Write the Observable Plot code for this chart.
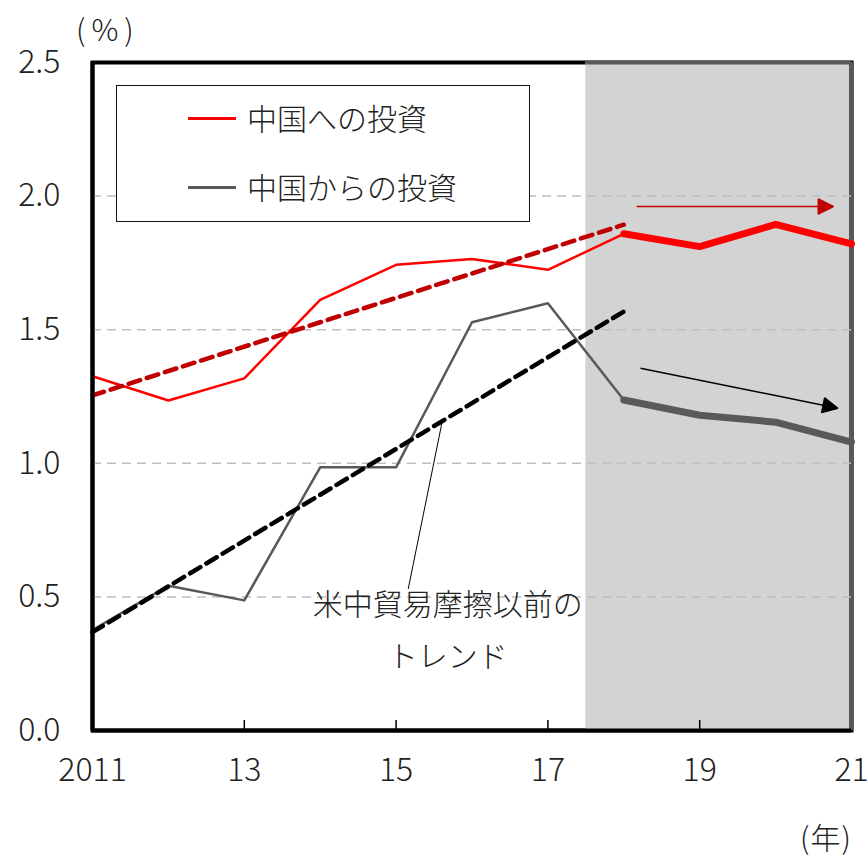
<!DOCTYPE html>
<html>
<head>
<meta charset="utf-8">
<script src="https://cdn.jsdelivr.net/npm/d3@7"></script>
<script src="https://cdn.jsdelivr.net/npm/@observablehq/plot@0.6"></script>
<style>
  body { margin: 0; background: #fff; overflow: hidden; }
  #wrap { position: relative; width: 868px; height: 861px; overflow: hidden; font-family: "Noto Sans CJK JP", "Noto Sans", sans-serif; font-weight: 300; color: #222; }
  #wrap svg { position: absolute; left: 0; top: 0; }
  .legend { position: absolute; left: 116px; top: 85px; width: 412px; height: 135px; border: 1.5px solid #111; background: #fff; }
  .legend .sw { position: absolute; left: 71px; width: 48px; height: 2.5px; }
  .legend .lb { position: absolute; left: 130px; font-size: 30px; line-height: 1; white-space: nowrap; }
  .unit { position: absolute; font-size: 30px; line-height: 1; white-space: nowrap; }
</style>
</head>
<body>
<div id="wrap"></div>
<script>
// ---- data ----
const years = [2011, 2012, 2013, 2014, 2015, 2016, 2017, 2018, 2019, 2020, 2021];
const toChina = [1.326, 1.235, 1.318, 1.612, 1.743, 1.765, 1.724, 1.859, 1.811, 1.894, 1.821];
const fromChina = [0.376, 0.542, 0.487, 0.985, 0.985, 1.528, 1.599, 1.237, 1.180, 1.154, 1.079];
const breakYear = 2018;
const trendYears = [2011, 2018];
const trendToChina = [1.254, 1.893];
const trendFromChina = [0.368, 1.568];
const shadeRange = [2017.5, 2021];
const yTicks = [0, 0.5, 1.0, 1.5, 2.0, 2.5];
const gridTicks = [0.5, 1.0, 1.5, 2.0];
const xTickYears = [2011, 2013, 2015, 2017, 2019, 2021];
const xTickLabels = ["2011", "13", "15", "17", "19", "21"];
const innerTickYears = [2013, 2015, 2017, 2019];
const seriesNames = ["中国への投資", "中国からの投資"];
const seriesColors = ["#ff0000", "#595959"];
const trendColors = ["#c00000", "#000000"];
const arrowRed = [{x1: 2018.17, y1: 1.961, x2: 2020.76, y2: 1.961}];
const arrowBlack = [{x1: 2018.22, y1: 1.356, x2: 2020.82, y2: 1.206}];
const noteLines = ["米中貿易摩擦以前の", "トレンド"];
const noteX = [2015.68, 2015.68];
const noteY = [0.468, 0.272];
const leader = [{x1: 2015.16, y1: 0.53, x2: 2015.61, y2: 1.16}];
const unitY = "(%)";
const unitX = "(年)";

// ---- build tables ----
const rowsTo = years.map((y, i) => ({year: y, v: toChina[i]}));
const rowsFrom = years.map((y, i) => ({year: y, v: fromChina[i]}));
const trendTo = trendYears.map((y, i) => ({year: y, v: trendToChina[i]}));
const trendFrom = trendYears.map((y, i) => ({year: y, v: trendFromChina[i]}));
const notes = noteLines.map((t, i) => ({t, x: noteX[i], y: noteY[i]}));
const labelMap = new Map(xTickYears.map((y, i) => [y, xTickLabels[i]]));
const shade = [{x1: shadeRange[0], x2: shadeRange[1], y1: yTicks[0], y2: yTicks[yTicks.length - 1]}];

function arrowMark(data, color) {
  return Plot.link(data, {
    x1: "x1", y1: "y1", x2: "x2", y2: "y2", stroke: color, strokeWidth: 1.5,
    render(index, scales, values, dims, context, next) {
      const g = next(index, scales, values, dims, context);
      for (const i of index) {
        const X1 = values.x1[i], Y1 = values.y1[i], X2 = values.x2[i], Y2 = values.y2[i];
        const a = Math.atan2(Y2 - Y1, X2 - X1);
        const L = 15, W = 7.5;
        const bx = X2 - L * Math.cos(a), by = Y2 - L * Math.sin(a);
        const p = [[X2, Y2], [bx - W * Math.sin(a), by + W * Math.cos(a)], [bx + W * Math.sin(a), by - W * Math.cos(a)]];
        d3.select(g).append("path").attr("d", "M" + p.map(q => q.join(",")).join("L") + "Z").attr("fill", color);
      }
      return g;
    }
  });
}

const font = '"Noto Sans CJK JP", "Noto Sans", sans-serif';
const chart = Plot.plot({
  width: 868,
  height: 861,
  marginLeft: 92,
  marginRight: 17,
  marginTop: 62,
  marginBottom: 131,
  style: {fontFamily: font, fontSize: "32px", fontWeight: 300, color: "#222", background: "transparent"},
  x: {domain: [2011, 2021]},
  y: {domain: [0, 2.5]},
  marks: [
    Plot.frame({stroke: "#000", strokeWidth: 4}),
    Plot.rect(shade, {x1: "x1", x2: "x2", y1: "y1", y2: "y2", fill: "#d3d3d3"}),
    Plot.ruleY([shade[0].y2], {x1: shade[0].x1, x2: shade[0].x2, stroke: "#595959", strokeWidth: 4}),
    Plot.ruleX([shade[0].x2], {y1: shade[0].y1, y2: shade[0].y2, stroke: "#595959", strokeWidth: 5}),
    Plot.ruleY(gridTicks, {stroke: "#bfbfbf", strokeWidth: 1.5, strokeDasharray: "9,6"}),
    Plot.axisY(yTicks, {tickSize: 0, tickPadding: 32, tickFormat: d3.format(".1f"), fontSize: 32, fill: "#222"}),
    Plot.axisX(xTickYears, {tickSize: 0, tickPadding: 28, tickFormat: d => labelMap.get(d), fontSize: 32, fill: "#222"}),
    Plot.axisX(innerTickYears, {tickSize: -10, text: null, stroke: "#000", strokeWidth: 1.5}),
    Plot.link(leader, {x1: "x1", y1: "y1", x2: "x2", y2: "y2", stroke: "#000", strokeWidth: 1}),
    Plot.line(rowsTo.filter(d => d.year <= breakYear), {x: "year", y: "v", stroke: seriesColors[0], strokeWidth: 2.5}),
    Plot.line(rowsTo.filter(d => d.year >= breakYear), {x: "year", y: "v", stroke: seriesColors[0], strokeWidth: 7, strokeLinejoin: "miter"}),
    Plot.line(rowsFrom.filter(d => d.year <= breakYear), {x: "year", y: "v", stroke: seriesColors[1], strokeWidth: 2.5}),
    Plot.line(rowsFrom.filter(d => d.year >= breakYear), {x: "year", y: "v", stroke: seriesColors[1], strokeWidth: 7, strokeLinejoin: "miter"}),
    Plot.line(trendTo, {x: "year", y: "v", stroke: trendColors[0], strokeWidth: 4.5, strokeDasharray: "12,7"}),
    Plot.line(trendFrom, {x: "year", y: "v", stroke: trendColors[1], strokeWidth: 4.5, strokeDasharray: "12,7"}),
    arrowMark(arrowRed, "#c00000"),
    arrowMark(arrowBlack, "#000000"),
    Plot.text(notes, {x: "x", y: "y", text: "t", fontSize: 30, fill: "#222", fontFamily: font, fontWeight: 300}),
    Plot.ruleY([yTicks[0]], {stroke: "#000", strokeWidth: 4}),
    Plot.ruleX([xTickYears[0]], {stroke: "#000", strokeWidth: 4})
  ]
});

const wrap = document.getElementById("wrap");
wrap.appendChild(chart);

// legend
const lg = document.createElement("div");
lg.className = "legend";
seriesNames.forEach((name, i) => {
  const top = i === 0 ? 32 : 101;
  const sw = document.createElement("div");
  sw.className = "sw";
  sw.style.top = (top - 1) + "px";
  sw.style.background = seriesColors[i];
  const lb = document.createElement("div");
  lb.className = "lb";
  lb.style.top = (top - 16) + "px";
  lb.textContent = name;
  lg.appendChild(sw);
  lg.appendChild(lb);
});
wrap.appendChild(lg);

const uy = document.createElement("div");
uy.className = "unit";
uy.style.left = "76px";
uy.style.top = "13px";
uy.style.letterSpacing = "6px";
uy.textContent = unitY;
wrap.appendChild(uy);

const ux = document.createElement("div");
ux.className = "unit";
ux.style.left = "800px";
ux.style.top = "821px";
ux.style.letterSpacing = "1px";
ux.textContent = unitX;
wrap.appendChild(ux);
</script>
</body>
</html>
